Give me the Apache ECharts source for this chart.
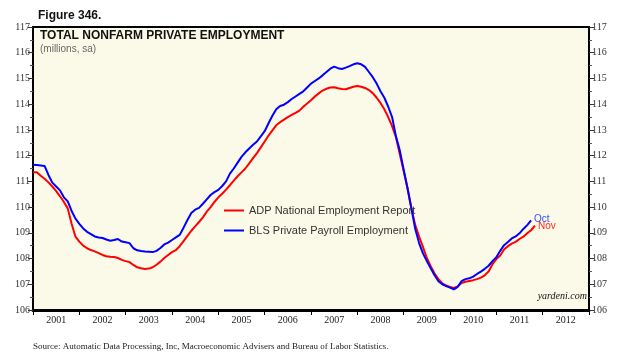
<!DOCTYPE html>
<html>
<head>
<meta charset="utf-8">
<script src="https://cdn.jsdelivr.net/npm/echarts@6/dist/echarts.min.js"></script>
<style>
html,body{margin:0;padding:0;background:#fff;}
#c{width:640px;height:360px;}
</style>
</head>
<body>
<div id="c"></div>
<script>
// Years shown on the x axis
const yearLabels = ['2001','2002','2003','2004','2005','2006','2007','2008','2009','2010','2011','2012'];
const startYear = 2001;
// Y-axis range (millions)
const yMin = 106, yMax = 117;

// ADP National Employment Report, monthly from Jan 2001 to Nov 2011 (millions, sa)
const adp = [
111.35,111.35,111.22,111.10,110.96,110.80,110.62,110.42,110.20,109.95,109.35,108.85,
108.66,108.50,108.40,108.33,108.28,108.21,108.14,108.09,108.07,108.06,108.02,107.95,
107.90,107.86,107.75,107.66,107.62,107.59,107.61,107.66,107.76,107.88,108.02,108.14,
108.25,108.33,108.48,108.68,108.88,109.08,109.25,109.42,109.60,109.82,110.00,110.20,
110.38,110.52,110.68,110.85,111.03,111.20,111.35,111.50,111.70,111.90,112.10,112.32,
112.55,112.78,112.98,113.18,113.30,113.40,113.50,113.58,113.66,113.75,113.90,114.03,
114.15,114.30,114.42,114.53,114.60,114.65,114.66,114.62,114.59,114.58,114.63,114.68,
114.71,114.68,114.63,114.55,114.43,114.25,114.05,113.80,113.50,113.15,112.72,112.05,
111.40,110.73,109.95,109.30,108.85,108.45,108.02,107.70,107.42,107.20,107.04,106.95,
106.90,106.86,106.92,107.05,107.10,107.13,107.16,107.20,107.26,107.35,107.50,107.78,
107.98,108.12,108.35,108.48,108.58,108.65,108.76,108.85,108.98,109.10,109.28
];

// BLS Private Payroll Employment, monthly from Jan 2001 to Oct 2011 (millions, sa)
const bls = [
111.65,111.64,111.62,111.60,111.25,110.95,110.80,110.65,110.38,110.22,109.85,109.55,
109.35,109.17,109.04,108.95,108.86,108.82,108.80,108.74,108.69,108.72,108.76,108.66,
108.63,108.60,108.40,108.32,108.29,108.27,108.26,108.25,108.30,108.41,108.55,108.62,
108.72,108.82,108.92,109.20,109.50,109.77,109.90,109.97,110.13,110.30,110.47,110.58,
110.67,110.82,111.00,111.30,111.50,111.73,111.95,112.13,112.28,112.42,112.55,112.75,
112.95,113.26,113.55,113.80,113.93,113.98,114.08,114.20,114.30,114.40,114.50,114.65,
114.80,114.90,115.00,115.12,115.25,115.38,115.46,115.40,115.37,115.42,115.48,115.55,
115.59,115.55,115.45,115.25,115.05,114.80,114.50,114.25,113.90,113.50,112.75,112.20,
111.45,110.73,109.95,109.15,108.60,108.20,107.90,107.62,107.35,107.12,107.00,106.93,
106.87,106.80,106.90,107.12,107.20,107.23,107.30,107.40,107.49,107.60,107.72,107.90,
108.05,108.30,108.52,108.64,108.78,108.86,108.98,109.15,109.30,109.48
];

const seriesNames = ['ADP National Employment Report', 'BLS Private Payroll Employment'];
const endNames = ['Nov', 'Oct'];

function toPoints(arr){ return arr.map((v,i)=>[startYear + i/12, v]); }

const serif = 'Liberation Serif';
const sans = 'Liberation Sans';

const chart = echarts.init(document.getElementById('c'), null, {renderer:'canvas'});
const yAxisCommon = {
  type:'value', min:yMin, max:yMax, interval:1,
  axisLine:{show:false},
  axisTick:{show:true, inside:false, length:5, lineStyle:{color:'#333', width:1}},
  minorTick:{show:true, splitNumber:2, length:3, lineStyle:{color:'#555'}},
  splitLine:{show:false},
  axisLabel:{fontFamily:serif, fontSize:10, color:'#333', margin:3}
};
chart.setOption({
  animation:false,
  backgroundColor:'#ffffff',
  title:[
    {text:'Figure 346.', left:38, top:10, padding:0, textStyle:{fontFamily:sans, fontSize:12, fontWeight:'bold', color:'#111'}},
    {text:'TOTAL NONFARM PRIVATE EMPLOYMENT', left:40, top:30, padding:0, textStyle:{fontFamily:sans, fontSize:12, fontWeight:'bold', color:'#111'}},
    {text:'(millions, sa)', left:40, top:44, padding:0, textStyle:{fontFamily:sans, fontSize:10, fontWeight:'normal', color:'#666'}},
    {text:'Source: Automatic Data Processing, Inc, Macroeconomic Advisers and Bureau of Labor Statistics.', left:33, top:342, padding:0, textStyle:{fontFamily:serif, fontSize:9, fontWeight:'normal', color:'#222'}},
    {text:'yardeni.com', right:53, top:291, padding:0, textStyle:{fontFamily:serif, fontSize:10, fontStyle:'italic', fontWeight:'normal', color:'#111'}}
  ],
  grid:{left:33, right:51, top:27, bottom:50, show:true, borderColor:'#000', borderWidth:2, backgroundColor:'#FBF9E7'},
  legend:{
    orient:'vertical', left:224, top:205, padding:0, itemWidth:20, itemHeight:2, itemGap:9, icon:'rect',
    textStyle:{fontFamily:sans, fontSize:11, color:'#333'},
    data:seriesNames
  },
  xAxis:[
    {type:'category', data:yearLabels, boundaryGap:true, position:'bottom',
     axisLine:{show:true, lineStyle:{color:'#000', width:3}},
     axisTick:{show:true, inside:false, length:5, lineStyle:{color:'#000', width:1}},
     axisLabel:{fontFamily:serif, fontSize:10, color:'#222', margin:5},
     splitLine:{show:false}},
    {type:'value', min:startYear, max:startYear + yearLabels.length, show:false, splitLine:{show:false}}
  ],
  yAxis:[
    Object.assign({position:'left'}, yAxisCommon),
    Object.assign({position:'right'}, yAxisCommon)
  ],
  series:[
    {name:seriesNames[0], type:'line', xAxisIndex:1, yAxisIndex:0, data:toPoints(adp), showSymbol:false,
     color:'#FF0000', lineStyle:{width:2, color:'#FF0000'},
     endLabel:{show:true, formatter:endNames[0], color:'#FF2A2A', fontFamily:sans, fontSize:10, distance:3, offset:[0,1]}},
    {name:seriesNames[1], type:'line', xAxisIndex:1, yAxisIndex:0, data:toPoints(bls), showSymbol:false,
     color:'#0000FF', lineStyle:{width:2, color:'#0000FF'},
     endLabel:{show:true, formatter:endNames[1], color:'#3050FF', fontFamily:sans, fontSize:10, distance:3, offset:[0,-1]}}
  ]
});
</script>
</body>
</html>
